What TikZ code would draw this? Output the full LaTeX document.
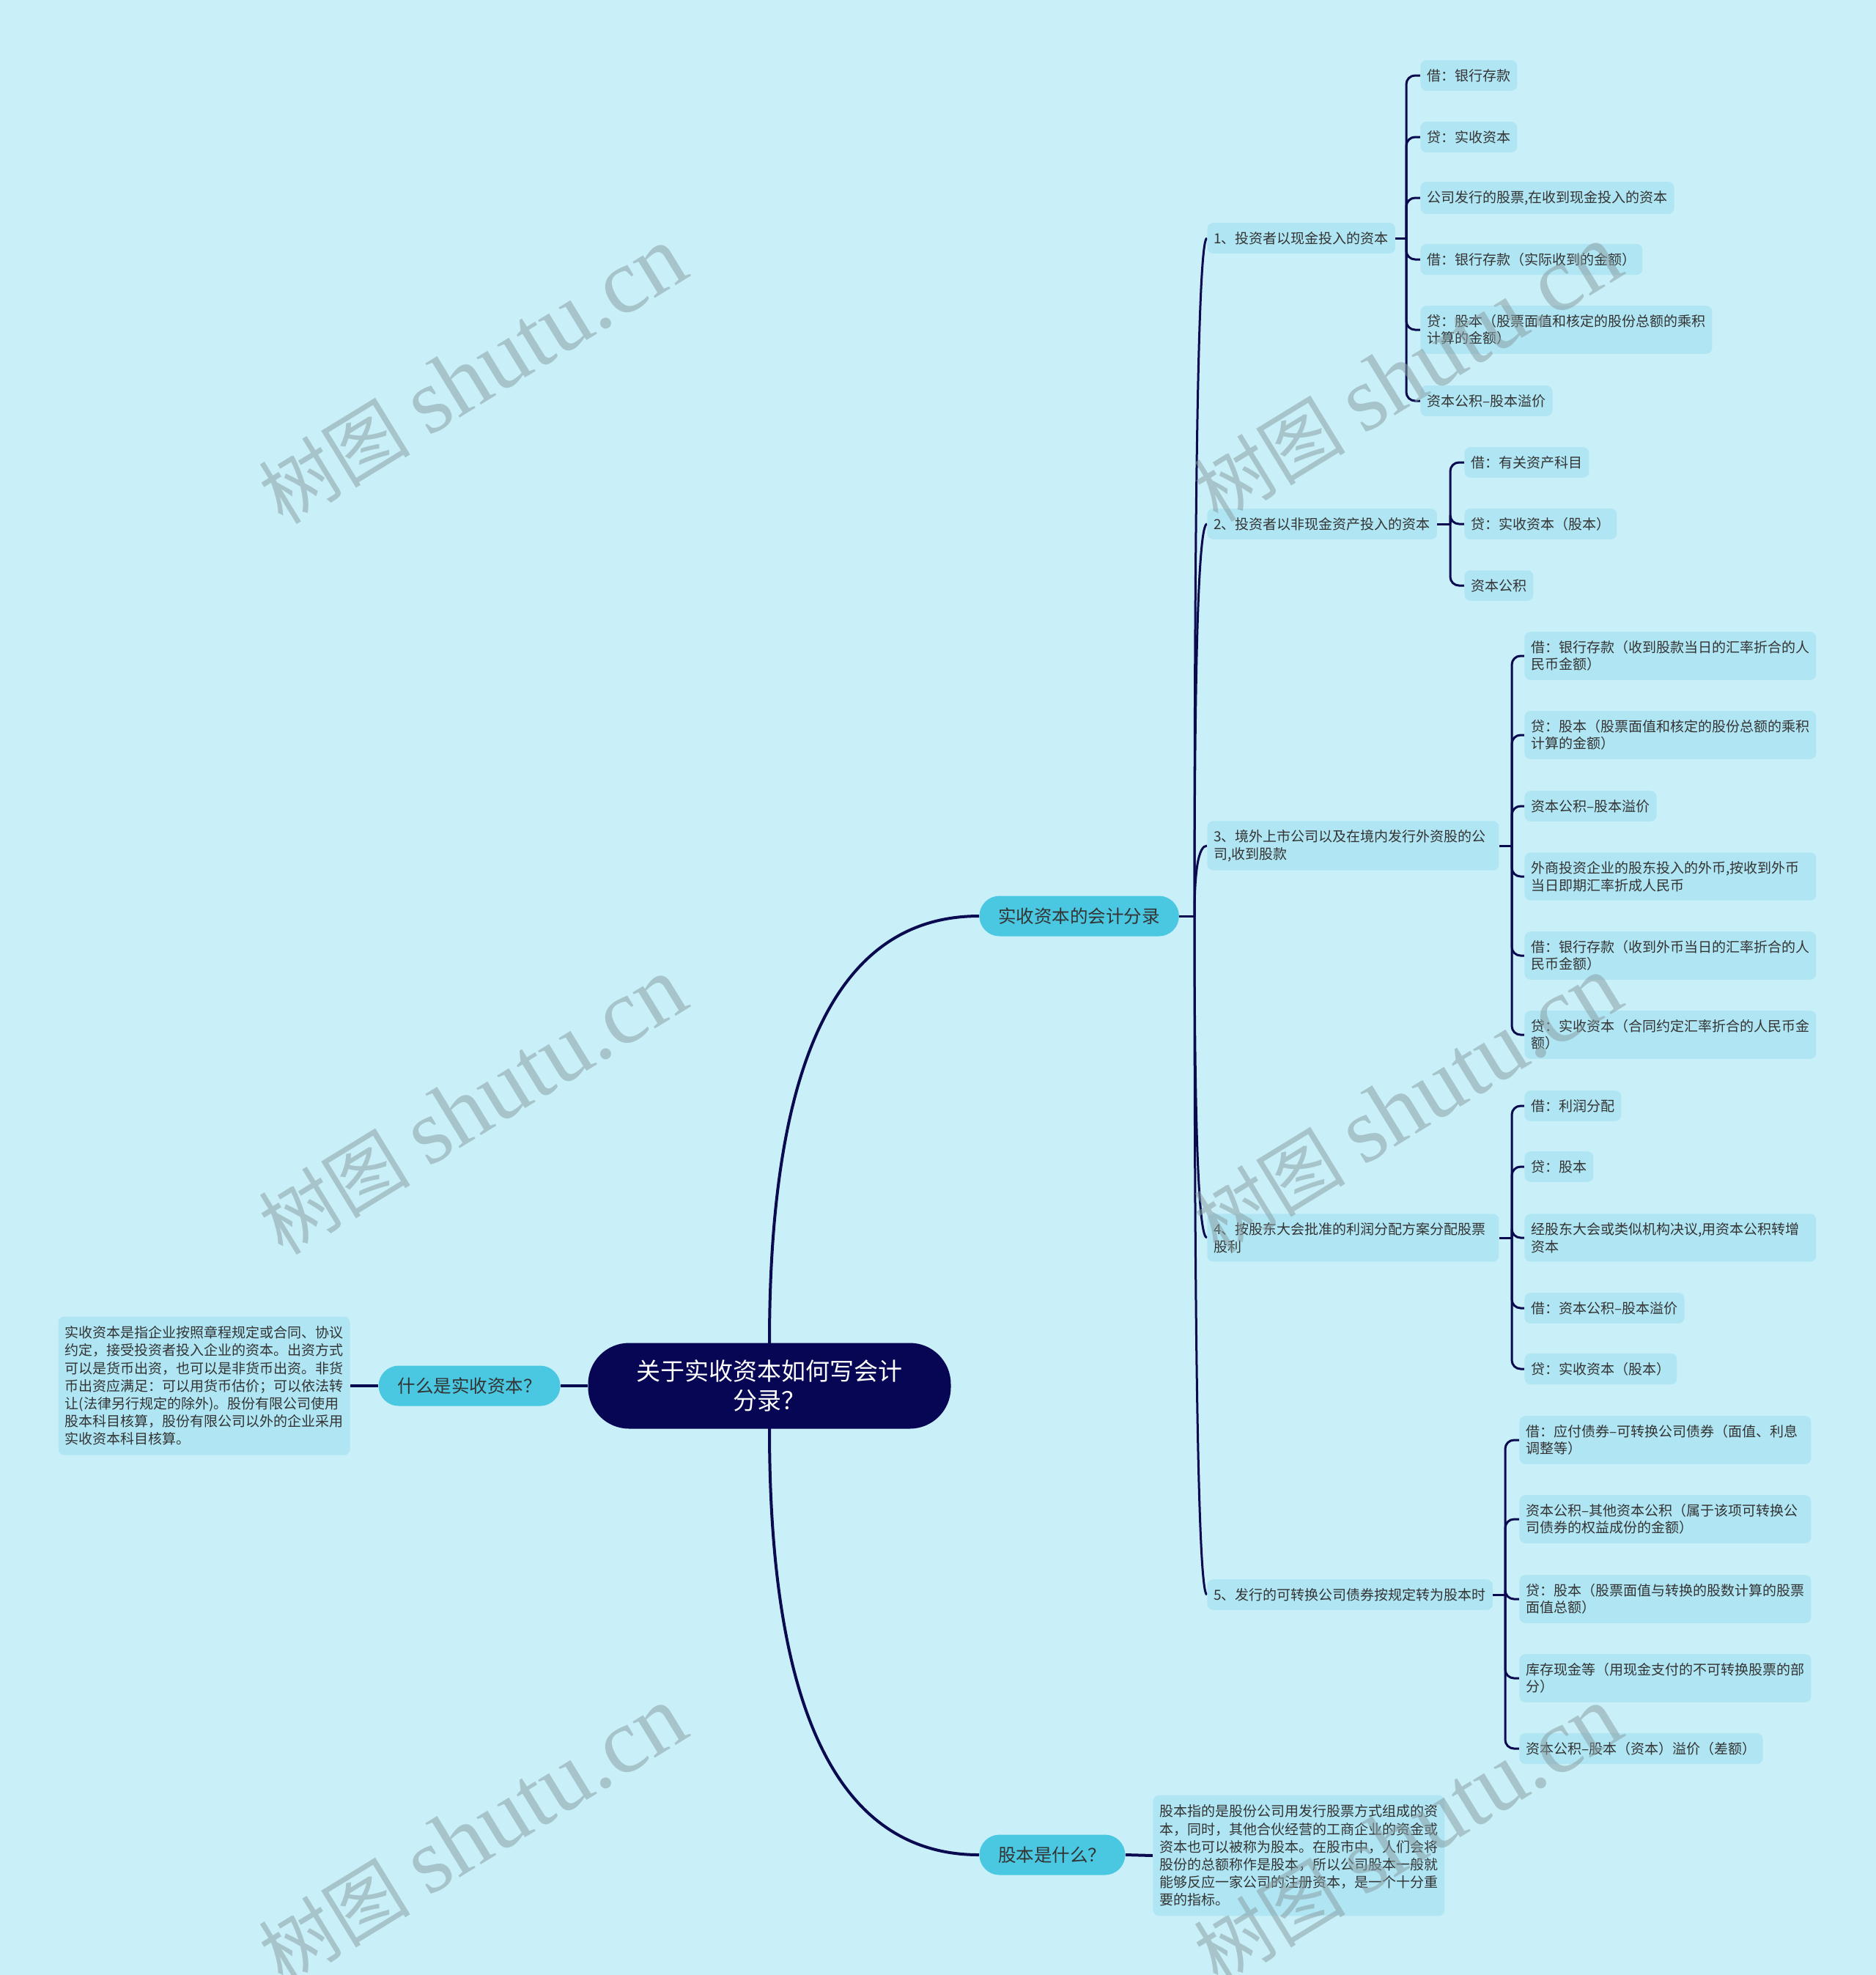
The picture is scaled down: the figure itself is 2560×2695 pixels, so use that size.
\documentclass[tikz,border=0pt]{standalone}
\usepackage{fontspec}
\setmainfont{Noto Sans CJK SC}
\newfontfamily\wmserif{Liberation Serif}
\definecolor{bgc}{HTML}{C9F0F8}
\definecolor{leaffill}{HTML}{B0E6F3}
\definecolor{midfill}{HTML}{4AC8E2}
\definecolor{rootfill}{HTML}{060654}
\definecolor{linec}{HTML}{0A0A50}
\definecolor{txt}{HTML}{333333}
\definecolor{wmc}{HTML}{8AA0A5}
\pgfdeclarelayer{back}
\pgfdeclarelayer{lines}
\pgfsetlayers{back,lines,main}
\begin{document}
\begin{tikzpicture}[x=0.5pt,y=-0.5pt,
  leaf/.style={fill=leaffill, rounded corners=4pt, inner xsep=4.5pt, inner ysep=6pt, text=txt,
    font=\fontsize{9.5}{11.75}\selectfont, anchor=west, align=left},
  wide/.style={leaf, text width=190pt},
  para/.style={leaf, text width=190pt, font=\fontsize{9.5}{12.1}\selectfont, inner ysep=6.5pt},
  mid/.style={fill=midfill, rounded corners=13.75pt, minimum height=27.5pt, inner xsep=13pt,
    font=\fontsize{12.25}{14}\selectfont, text=txt},
  rootbox/.style={fill=rootfill, rounded corners=28pt, minimum width=247.5pt, minimum height=58.5pt,
    text=white, align=center, font=\fontsize{16.5}{20}\selectfont},
  mainln/.style={draw=linec, line width=2pt},
  subln/.style={draw=linec, line width=1.5pt},
  brln/.style={draw=linec, line width=1.5pt, rounded corners=6pt},
  wm/.style={rotate=31.5, text=wmc, opacity=0.55, inner sep=0pt}
]
\begin{pgfonlayer}{back}
\fill[bgc] (0,0) rectangle (2560,2695);
\end{pgfonlayer}
\useasboundingbox (0,0) rectangle (2560,2695);

% root and first level
\node[rootbox] (root) at (1050,1891) {关于实收资本如何写会计\\分录？};
\node[mid, anchor=east] (q1) at (765,1891) {什么是实收资本？};
\node[para, anchor=east] (p1) at (478,1891) {实收资本是指企业按照章程规定或合同、协议\\约定，接受投资者投入企业的资本。出资方式\\可以是货币出资，也可以是非货币出资。非货\\币出资应满足：可以用货币估价；可以依法转\\让(法律另行规定的除外)。股份有限公司使用\\股本科目核算，股份有限公司以外的企业采用\\实收资本科目核算。};
\node[mid, anchor=west] (k) at (1336,1250) {实收资本的会计分录};
\node[mid, anchor=west] (g) at (1336,2531) {股本是什么？};
\node[para, anchor=west] (p2) at (1573,2532) {股本指的是股份公司用发行股票方式组成的资\\本，同时，其他合伙经营的工商企业的资金或\\资本也可以被称为股本。在股市中，人们会将\\股份的总额称作是股本，所以公司股本一般就\\能够反应一家公司的注册资本，是一个十分重\\要的指标。};

% second level
\node[leaf] (a1) at (1647,325) {1、投资者以现金投入的资本};
\node[leaf] (a2) at (1647,715) {2、投资者以非现金资产投入的资本};
\node[wide] (a3) at (1647,1154) {3、境外上市公司以及在境内发行外资股的公\\司,收到股款};
\node[wide] (a4) at (1647,1689) {4、按股东大会批准的利润分配方案分配股票\\股利};
\node[leaf] (a5) at (1647,2176) {5、发行的可转换公司债券按规定转为股本时};

% group 1
\node[leaf] (b11) at (1938,103) {借：银行存款};
\node[leaf] (b12) at (1938,187) {贷：实收资本};
\node[leaf] (b13) at (1938,270) {公司发行的股票,在收到现金投入的资本};
\node[leaf] (b14) at (1938,354) {借：银行存款（实际收到的金额）};
\node[wide] (b15) at (1938,450) {贷：股本（股票面值和核定的股份总额的乘积\\计算的金额）};
\node[leaf] (b16) at (1938,547) {资本公积–股本溢价};
% group 2
\node[leaf] (b21) at (1998,631) {借：有关资产科目};
\node[leaf] (b22) at (1998,715) {贷：实收资本（股本）};
\node[leaf] (b23) at (1998,799) {资本公积};
% group 3
\node[wide] (b31) at (2080,895) {借：银行存款（收到股款当日的汇率折合的人\\民币金额）};
\node[wide] (b32) at (2080,1003) {贷：股本（股票面值和核定的股份总额的乘积\\计算的金额）};
\node[leaf] (b33) at (2080,1100) {资本公积–股本溢价};
\node[wide] (b34) at (2080,1196) {外商投资企业的股东投入的外币,按收到外币\\当日即期汇率折成人民币};
\node[wide] (b35) at (2080,1304) {借：银行存款（收到外币当日的汇率折合的人\\民币金额）};
\node[wide] (b36) at (2080,1412) {贷：实收资本（合同约定汇率折合的人民币金\\额）};
% group 4
\node[leaf] (b41) at (2080,1509) {借：利润分配};
\node[leaf] (b42) at (2080,1592) {贷：股本};
\node[wide] (b43) at (2080,1689) {经股东大会或类似机构决议,用资本公积转增\\资本};
\node[leaf] (b44) at (2080,1785) {借：资本公积–股本溢价};
\node[leaf] (b45) at (2080,1868) {贷：实收资本（股本）};
% group 5
\node[wide] (b51) at (2073,1965) {借：应付债券–可转换公司债券（面值、利息\\调整等）};
\node[wide] (b52) at (2073,2073) {资本公积–其他资本公积（属于该项可转换公\\司债券的权益成份的金额）};
\node[wide] (b53) at (2073,2182) {贷：股本（股票面值与转换的股数计算的股票\\面值总额）};
\node[wide] (b54) at (2073,2290) {库存现金等（用现金支付的不可转换股票的部\\分）};
\node[leaf] (b55) at (2073,2386) {资本公积–股本（资本）溢价（差额）};

% hubs
\coordinate (hk) at (1630,1250);
\coordinate (h1) at (1919,325);
\coordinate (h2) at (1979,715);
\coordinate (h3) at (2063,1154);
\coordinate (h4) at (2063,1689);
\coordinate (h5) at (2054,2176);

\begin{pgfonlayer}{lines}
\draw[mainln] (root.west) -- (q1.east);
\draw[mainln] (q1.west) -- (p1.east);
\draw[mainln] (root.center) -- (root.north) .. controls +(0,-388.7) and +(-190.7,0) .. (k.west);
\draw[mainln] (root.center) -- (root.south) .. controls +(0,387.3) and +(-190.7,0) .. (g.west);
\draw[mainln] (g.east) -- (p2.west);
\draw[subln] (k.east) -- (hk);
\draw[subln] (hk) .. controls +(0,-616.7) and +(-11.3,0) .. (a1.west);
\draw[subln] (hk) .. controls +(0,-356.7) and +(-11.3,0) .. (a2.west);
\draw[subln] (hk) .. controls +(0,-64) and +(-11.3,0) .. (a3.west);
\draw[subln] (hk) .. controls +(0,292.7) and +(-11.3,0) .. (a4.west);
\draw[subln] (hk) .. controls +(0,617.3) and +(-11.3,0) .. (a5.west);
\draw[subln] (a1.east) -- (h1);
\draw[subln] (a2.east) -- (h2);
\draw[subln] (a3.east) -- (h3);
\draw[subln] (a4.east) -- (h4);
\draw[subln] (a5.east) -- (h5);
\foreach \n in {b11,b12,b13,b14,b15,b16} \draw[brln] (h1) |- (\n.west);
\foreach \n in {b21,b22,b23} \draw[brln] (h2) |- (\n.west);
\foreach \n in {b31,b32,b33,b34,b35,b36} \draw[brln] (h3) |- (\n.west);
\foreach \n in {b41,b42,b43,b44,b45} \draw[brln] (h4) |- (\n.west);
\foreach \n in {b51,b52,b53,b54,b55} \draw[brln] (h5) |- (\n.west);
\end{pgfonlayer}

% watermarks
\newcommand{\wmtext}{{\fontsize{52}{52}\selectfont 树图}\hspace{12pt}{\wmserif\fontsize{63}{63}\selectfont shutu.cn}}
\node[wm] (w1) at (645,513) {\wmtext};
\node[wm] (w2) at (1921,510) {\wmtext};
\node[wm] (w3) at (645,1510) {\wmtext};
\node[wm] (w4) at (1921,1508) {\wmtext};
\node[wm] (w5) at (645,2505) {\wmtext};
\node[wm] (w6) at (1921,2505) {\wmtext};
\end{tikzpicture}
\end{document}
